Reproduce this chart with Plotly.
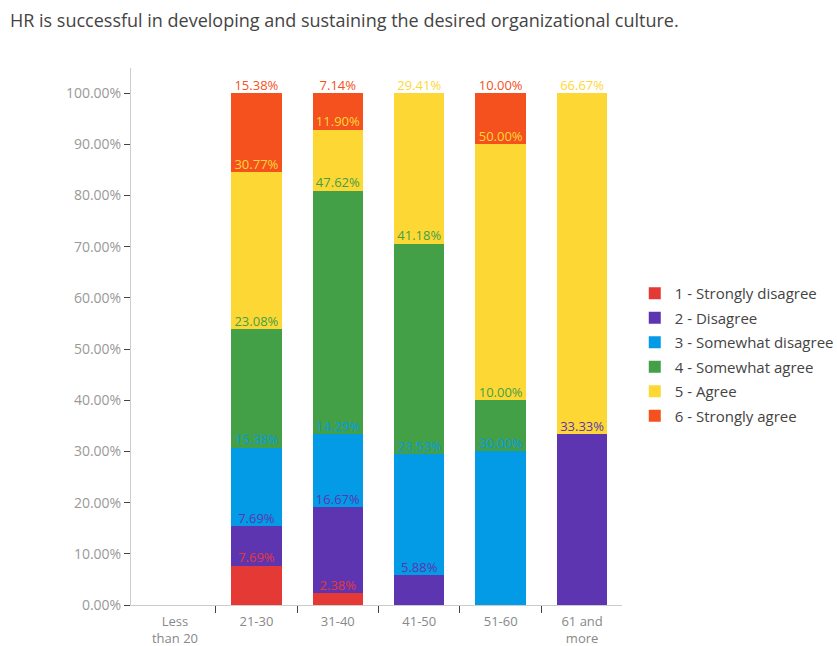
import plotly.graph_objects as go

categories = ["Less<br>than 20", "21-30", "31-40", "41-50", "51-60", "61 and<br>more"]
series_names = ["1 - Strongly disagree", "2 - Disagree", "3 - Somewhat disagree",
                "4 - Somewhat agree", "5 - Agree", "6 - Strongly agree"]
strongly_disagree = [0, 7.69, 2.38, 0, 0, 0]
disagree = [0, 7.69, 16.67, 5.88, 0, 33.33]
somewhat_disagree = [0, 15.38, 14.29, 23.53, 30.00, 0]
somewhat_agree = [0, 23.08, 47.62, 41.18, 10.00, 0]
agree = [0, 30.77, 11.90, 29.41, 50.00, 66.67]
strongly_agree = [0, 15.38, 7.14, 0, 10.00, 0]
colors = ["#E53935", "#5E35B1", "#039BE5", "#43A047", "#FDD835", "#F4511E"]
y_ticks = [0, 10, 20, 30, 40, 50, 60, 70, 80, 90, 100]

series = [strongly_disagree, disagree, somewhat_disagree, somewhat_agree, agree, strongly_agree]
positions = list(range(len(categories)))
boundaries = [p + 0.5 for p in positions[:-1]]

FONT = "Open Sans"
fig = go.Figure()

for i, (name, vals, col) in enumerate(zip(series_names, series, colors)):
    fig.add_trace(go.Bar(
        x=positions, y=vals, name=name, marker=dict(color=col, line=dict(width=0)),
        legendgroup=str(i), hoverinfo="skip",
    ))

cum = [0] * len(categories)
for i, (vals, col) in enumerate(zip(series, colors)):
    xs, ys, ts = [], [], []
    for j, v in enumerate(vals):
        cum[j] += v
        if v > 0:
            xs.append(positions[j])
            ys.append(cum[j])
            ts.append(f"{v:.2f}%")
    fig.add_trace(go.Scatter(
        x=xs, y=ys, text=ts, mode="text", textposition="top center",
        textfont=dict(color=col, size=13, family=FONT), showlegend=False,
        cliponaxis=False, hoverinfo="skip",
    ))

fig.update_layout(
    barmode="stack",
    bargap=0.38,
    width=837, height=646,
    margin=dict(l=131, r=215, t=68, b=41, autoexpand=False),
    paper_bgcolor="white", plot_bgcolor="white",
    font=dict(family=FONT, color="#777777", size=12),
    title=dict(text="HR is successful in developing and sustaining the desired organizational culture.",
               x=10/837, xref="container", xanchor="left",
               y=1-21/646, yref="container", yanchor="middle",
               font=dict(size=18, color="#444444", family=FONT)),
    legend=dict(x=1.026, xanchor="left", y=0.611, yanchor="top",
                font=dict(size=15, color="#444444", family=FONT),
                tracegroupgap=2, traceorder="grouped"),
    xaxis=dict(range=[-0.54, 5.49], showline=True, linecolor="#cccccc", linewidth=1,
               tickvals=positions, ticktext=categories, ticks="",
               minor=dict(tickvals=boundaries, ticks="outside", ticklen=7, tickcolor="#444444"),
               ticklabelstandoff=4, automargin=False, zeroline=False,
               showgrid=False, tickfont=dict(size=13, color="#888888"), fixedrange=True),
    yaxis=dict(range=[0, 104.9], tickvals=y_ticks, ticktext=[f"{t:.2f}%" for t in y_ticks],
               showline=True, linecolor="#cccccc", linewidth=1, ticks="outside",
               ticklen=6, tickcolor="#444444", showgrid=False, zeroline=False, automargin=False,
               tickfont=dict(size=14, color="#999999")),
)

fig.write_html("out.html")
